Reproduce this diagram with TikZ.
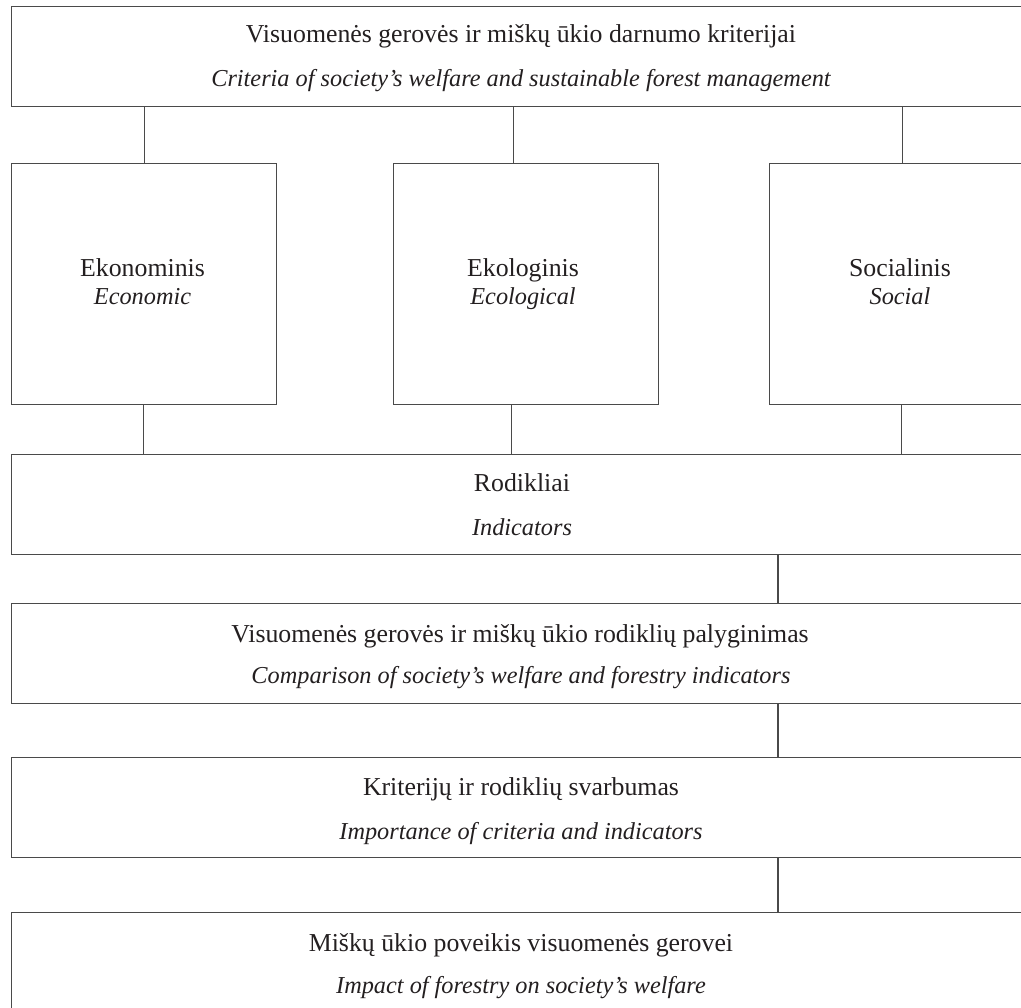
\documentclass[tikz,border=0pt]{standalone}
\usepackage{fontspec}
\setmainfont{Liberation Serif}
\definecolor{linec}{HTML}{4A4A4A}
\definecolor{textc}{HTML}{231F20}
\begin{document}
\begin{tikzpicture}[x=1pt,y=-1pt,
  box/.style={draw=linec,line width=1.2pt,rectangle,inner sep=0pt,anchor=north west},
  lbl/.style={anchor=base,inner sep=0pt,text=textc,font=\fontsize{25.8}{30}\selectfont},
  ilbl/.style={lbl,font=\fontsize{24.3}{30}\selectfont\itshape},
  conn/.style={draw=linec,line width=1.2pt}]
\useasboundingbox (0,0) rectangle (1021,1008);
\clip (0,0) rectangle (1021,1008);
% boxes
\node[box,minimum width=1023pt,minimum height=100pt] (top) at (11,6) {};
\node[box,minimum width=265pt,minimum height=241pt] (eco) at (11,163) {};
\node[box,minimum width=265pt,minimum height=241pt] (ecl) at (393,163) {};
\node[box,minimum width=265pt,minimum height=241pt] (soc) at (769,163) {};
\node[box,minimum width=1023pt,minimum height=100pt] (rod) at (11,454) {};
\node[box,minimum width=1023pt,minimum height=100pt] (cmp) at (11,603) {};
\node[box,minimum width=1023pt,minimum height=100pt] (imp) at (11,757) {};
\node[box,minimum width=1023pt,minimum height=100pt] (eff) at (11,912) {};
% texts
\node[lbl]  (t1a) at (521,43) {Visuomenės gerovės ir miškų ūkio darnumo kriterijai};
\node[ilbl] (t1b) at (521,87) {Criteria of society’s welfare and sustainable forest management};
\node[lbl]  (t2a) at (142.5,277) {Ekonominis};
\node[ilbl] (t2b) at (142.5,305) {Economic};
\node[lbl]  (t3a) at (523,277) {Ekologinis};
\node[ilbl] (t3b) at (523,305) {Ecological};
\node[lbl]  (t4a) at (900,277) {Socialinis};
\node[ilbl] (t4b) at (900,305) {Social};
\node[lbl]  (t5a) at (522,492) {Rodikliai};
\node[ilbl] (t5b) at (522,535) {Indicators};
\node[lbl]  (t6a) at (520,642) {Visuomenės gerovės ir miškų ūkio rodiklių palyginimas};
\node[ilbl] (t6b) at (521,683) {Comparison of society’s welfare and forestry indicators};
\node[lbl]  (t7a) at (521,795) {Kriterijų ir rodiklių svarbumas};
\node[ilbl] (t7b) at (521,839) {Importance of criteria and indicators};
\node[lbl]  (t8a) at (521,951) {Miškų ūkio poveikis visuomenės gerovei};
\node[ilbl] (t8b) at (521,993) {Impact of forestry on society’s welfare};
% connectors
\coordinate (cx) at (778,0);
\draw[conn] (eco.north) -- (eco.north |- top.south);
\draw[conn] ([xshift=-13pt]ecl.north) -- ([xshift=-13pt]ecl.north |- top.south);
\draw[conn] (soc.north) -- (soc.north |- top.south);
\draw[conn] ([xshift=-1pt]eco.south) -- ([xshift=-1pt]eco.south |- rod.north);
\draw[conn] ([xshift=-15pt]ecl.south) -- ([xshift=-15pt]ecl.south |- rod.north);
\draw[conn] ([xshift=-1pt]soc.south) -- ([xshift=-1pt]soc.south |- rod.north);
\draw[conn] (rod.south -| cx) -- (cmp.north -| cx);
\draw[conn] (cmp.south -| cx) -- (imp.north -| cx);
\draw[conn] (imp.south -| cx) -- (eff.north -| cx);
\end{tikzpicture}
\end{document}
